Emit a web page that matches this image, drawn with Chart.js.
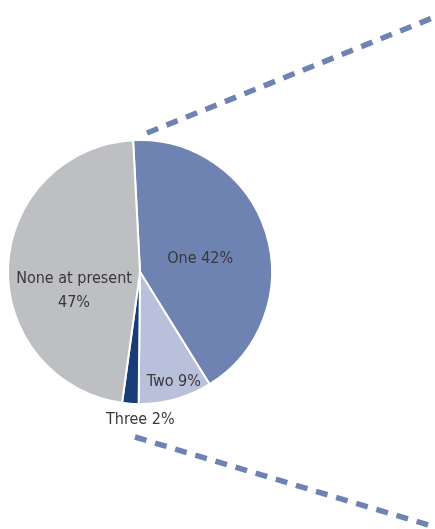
<!DOCTYPE html>
<html>
<head>
<meta charset="utf-8">
<script src="https://cdn.jsdelivr.net/npm/chart.js@4/dist/chart.umd.min.js"></script>
<style>
  html, body { margin: 0; padding: 0; background: #fff; }
  #wrap { position: relative; width: 435px; height: 529px; }
</style>
</head>
<body>
<div id="wrap"><canvas id="Chart"></canvas></div>
<script>
const categories = ["One", "Two", "Three", "None at present"];
const shares = [42, 9, 2, 47];
const sliceColors = ["#6f83b2", "#b8c0dc", "#163d78", "#bebfc2"];

// where each label sits: fraction of the radius along the slice's mid angle, plus a nudge in px
const labelPlacement = [
  { r: 0.47, dx: 1, dy: 5 },
  { r: 0.84, dx: 4, dy: 3 },
  { r: 1.11, dx: 11, dy: 2 },
  { r: 0.5, dx: 0, dy: 22 },
];

// the two connector lines that run off to the right edge
const connectors = [
  { fx: 0.053, fy: -1.053, slope: -0.403 },
  { fx: -0.038, fy: 1.25, slope: 0.3 },
];

const pieExtras = {
  id: "pieExtras",
  afterDraw(chart) {
    const { ctx } = chart;
    const meta = chart.getDatasetMeta(0);
    const first = meta.data[0];
    const cx = first.x, cy = first.y, R = first.outerRadius;

    // dashed connectors
    ctx.save();
    ctx.strokeStyle = "#6e82b3";
    ctx.lineWidth = 5.5;
    ctx.lineCap = "butt";
    ctx.setLineDash([12, 9]);
    connectors.forEach((c) => {
      const x0 = cx + c.fx * R, y0 = cy + c.fy * R;
      const x1 = chart.width + 10;
      ctx.beginPath();
      ctx.moveTo(x0, y0);
      ctx.lineTo(x1, y0 + c.slope * (x1 - x0));
      ctx.stroke();
    });
    ctx.restore();

    // slice labels
    ctx.save();
    ctx.fillStyle = "#383838";
    ctx.font = "16px 'DejaVu Sans Condensed', 'DejaVu Sans', sans-serif";
    ctx.textAlign = "center";
    ctx.textBaseline = "middle";
    meta.data.forEach((arc, i) => {
      const mid = (arc.startAngle + arc.endAngle) / 2;
      const p = labelPlacement[i];
      const x = cx + Math.cos(mid) * R * p.r + p.dx;
      const y = cy + Math.sin(mid) * R * p.r + p.dy;
      if (categories[i] === "None at present") {
        ctx.fillText(categories[i], x, y - 12);
        ctx.fillText(shares[i] + "%", x, y + 12);
      } else {
        ctx.fillText(categories[i] + " " + shares[i] + "%", x, y);
      }
    });
    ctx.restore();
  },
};

new Chart(document.getElementById("Chart"), {
  type: "pie",
  data: {
    labels: categories,
    datasets: [
      {
        data: shares,
        backgroundColor: sliceColors,
        borderColor: "#ffffff",
        borderWidth: 2,
      },
    ],
  },
  options: {
    responsive: true,
    maintainAspectRatio: false,
    animation: false,
    rotation: -3,
    layout: { padding: { left: 7, right: 162, top: 139, bottom: 124 } },
    plugins: {
      legend: { display: false },
      tooltip: { enabled: false },
    },
  },
  plugins: [pieExtras],
});
</script>
</body>
</html>
